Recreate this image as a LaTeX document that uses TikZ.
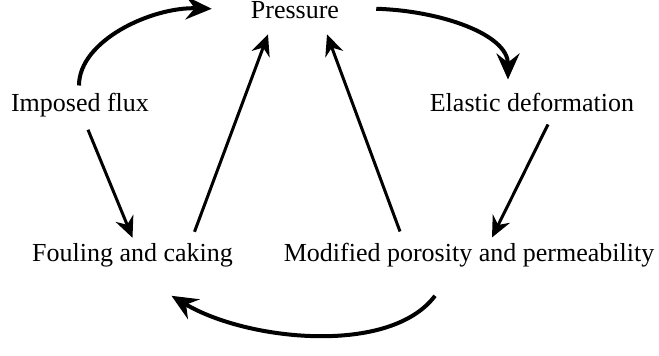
\documentclass[tikz,border=0pt]{standalone}
\usepackage{fontspec}
\setmainfont{Liberation Serif}
\usetikzlibrary{arrows.meta}
\begin{document}
\begin{tikzpicture}[x=1pt,y=1pt,
  lbl/.style={anchor=base,inner sep=0pt,font=\fontsize{26}{30}\selectfont},
  curvearr/.style={line width=4pt,-{Stealth[length=26pt 0,width=23pt 0,inset=9pt 0]}},
  linearr/.style={line width=3pt,-{Stealth[length=21pt 0,width=19pt 0,inset=7pt 0]}}]
\useasboundingbox (0,0) rectangle (659,356);
\node[lbl] (P) at (295,337) {Pressure};
\node[lbl] (I) at (80,244) {Imposed flux};
\node[lbl] (E) at (532,244) {Elastic deformation};
\node[lbl] (F) at (132.5,94) {Fouling and caking};
\node[lbl] (M) at (469,94) {Modified porosity and permeability};
% curved arrows
\draw[curvearr] ([shift={(-1,8)}]I.north) .. controls +(0,45) and +(-60,2) .. ([xshift=-39,yshift=-7]P.north west);
\draw[curvearr] ([xshift=37,yshift=-7]P.north east) .. controls +(65,-2) and +(0,45) .. ([shift={(-24,14)}]E.north);
\draw[curvearr] ([shift={(-34,-28)}]M.south) .. controls +(-45,-60) and +(75,-45) .. ([shift={(39,-28)}]F.south);
% straight arrows
\draw[linearr] ([shift={(8,-12)}]I.south) -- ([shift={(0,6)}]F.north);
\draw[linearr] ([shift={(62,12)}]F.north) -- ([shift={(-27,-15)}]P.south);
\draw[linearr] ([shift={(-69,12)}]M.north) -- ([shift={(32,-15)}]P.south);
\draw[linearr] ([shift={(16,-12)}]E.south) -- ([shift={(23,6)}]M.north);
\end{tikzpicture}
\end{document}
